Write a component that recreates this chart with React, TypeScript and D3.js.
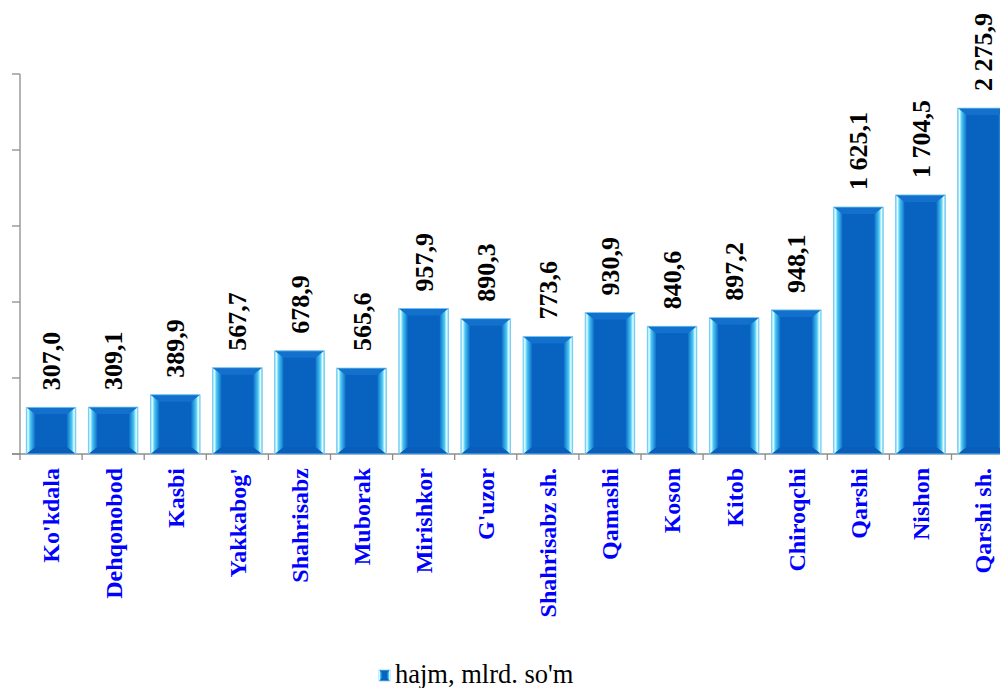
import React from "react";
import * as d3 from "d3";

const categories = [
  "Ko'kdala", "Dehqonobod", "Kasbi", "Yakkabog'", "Shahrisabz", "Muborak",
  "Mirishkor", "G'uzor", "Shahrisabz sh.", "Qamashi", "Koson", "Kitob",
  "Chiroqchi", "Qarshi", "Nishon", "Qarshi sh.",
];
const values = [307.0, 309.1, 389.9, 567.7, 678.9, 565.6, 957.9, 890.3, 773.6, 930.9, 840.6, 897.2, 948.1, 1625.1, 1704.5, 2275.9];
const valueLabels = ["307,0", "309,1", "389,9", "567,7", "678,9", "565,6", "957,9", "890,3", "773,6", "930,9", "840,6", "897,2", "948,1", "1 625,1", "1 704,5", "2 275,9"];
const yTicks = [0, 500, 1000, 1500, 2000, 2500];
const seriesName = "hajm, mlrd. so'm";

const W = 1000;
const H = 688;
const FONT = "Liberation Serif";

export default function App() {
  const x = d3.scaleBand<string>().domain(categories).range([20, 1013.6]).paddingInner(0.2).paddingOuter(0.1);
  const y = d3.scaleLinear().domain([0, 2500]).range([454, 74]);
  const step = x.step();
  const bw = x.bandwidth();
  const bev = 9;
  const tb = 7;

  return (
    <svg width={W} height={H} style={{ position: "fixed", left: 0, top: 0, background: "#fff" }}>
      <defs>
        <linearGradient id="gl" x1="0" x2="1" y1="0" y2="0">
          <stop offset="0" stopColor="#6CCBF2" />
          <stop offset="0.2" stopColor="#E6FFFF" />
          <stop offset="0.45" stopColor="#49C9F3" />
          <stop offset="1" stopColor="#0E6CC9" />
        </linearGradient>
        <linearGradient id="gr" x1="1" x2="0" y1="0" y2="0">
          <stop offset="0" stopColor="#6CCBF2" />
          <stop offset="0.2" stopColor="#E6FFFF" />
          <stop offset="0.45" stopColor="#49C9F3" />
          <stop offset="1" stopColor="#0E6CC9" />
        </linearGradient>
      </defs>
      {/* y axis */}
      <line x1={20} x2={20} y1={74} y2={454} stroke="#8c8c8c" strokeWidth={1.3} />
      {yTicks.map((t) => (
        <line key={t} x1={12} x2={20} y1={y(t)} y2={y(t)} stroke="#8c8c8c" strokeWidth={1.3} />
      ))}
      {/* x axis */}
      <line x1={12} x2={W} y1={454} y2={454} stroke="#8c8c8c" strokeWidth={1.3} />
      {categories.map((c, i) => (
        <line key={c} x1={20 + i * step} x2={20 + i * step} y1={454} y2={460} stroke="#8c8c8c" strokeWidth={1.3} />
      ))}
      {/* bars */}
      {categories.map((c, i) => {
        const x0 = x(c)!;
        const x1 = x0 + bw;
        const y0 = y(values[i]);
        const y1 = y(0);
        return (
          <g key={c}>
            <rect x={x0} y={y0} width={bw} height={y1 - y0} fill="#0762C0" />
            <polygon points={`${x0},${y0} ${x1},${y0} ${x1 - bev},${y0 + tb} ${x0 + bev},${y0 + tb}`} fill="#1370CC" />
            <polygon points={`${x0},${y1} ${x1},${y1} ${x1 - bev},${y1 - tb} ${x0 + bev},${y1 - tb}`} fill="#0A5DB8" />
            <polygon points={`${x0},${y0} ${x0 + bev},${y0 + tb} ${x0 + bev},${y1 - tb} ${x0},${y1}`} fill="url(#gl)" />
            <polygon points={`${x1},${y0} ${x1 - bev},${y0 + tb} ${x1 - bev},${y1 - tb} ${x1},${y1}`} fill="url(#gr)" />
            <rect x={x0} y={y0} width={bw} height={y1 - y0} fill="none" stroke="#7DD3F5" strokeWidth={0.8} />
          </g>
        );
      })}
      {/* value labels */}
      {categories.map((c, i) => {
        const cx = x(c)! + bw / 2;
        const ty = y(values[i]) - 17;
        return (
          <text key={c} transform={`translate(${cx},${ty}) rotate(-90)`} dy="0.35em" textAnchor="start"
            fontFamily={FONT} fontWeight="bold" fontSize={26} fill="#000">
            {valueLabels[i]}
          </text>
        );
      })}
      {/* category labels */}
      {categories.map((c) => {
        const cx = x(c)! + bw / 2;
        return (
          <text key={c} transform={`translate(${cx},468) rotate(-90)`} dy="0.35em" textAnchor="end"
            fontFamily={FONT} fontWeight="bold" fontSize={24} fill="#0000FF">
            {c}
          </text>
        );
      })}
      {/* legend */}
      <g>
        <rect x={379} y={670} width={11} height={11} fill="#0762C0" stroke="#7DD3F5" strokeWidth={0.8} />
        <polygon points="379,670 382,673 382,678 379,681" fill="url(#gl)" />
        <polygon points="390,670 387,673 387,678 390,681" fill="url(#gr)" />
        <text x={395} y={683} fontFamily={FONT} fontSize={26.5} fill="#000">{seriesName}</text>
      </g>
    </svg>
  );
}
